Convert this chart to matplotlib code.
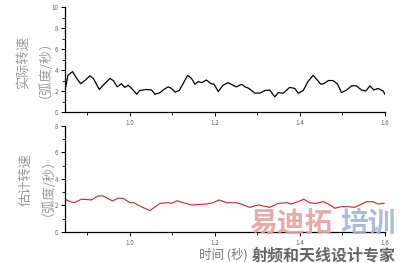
import matplotlib
matplotlib.use("Agg")
import matplotlib.pyplot as plt
from matplotlib.ticker import MultipleLocator

plt.rcParams['font.family'] = ['Noto Sans CJK SC', 'DejaVu Sans']

# 实际转速 (top, black)
t_real = [0.849, 0.854, 0.865, 0.875, 0.884, 0.894, 0.906, 0.914, 0.928, 0.937,
          0.953, 0.961, 0.970, 0.980, 0.988, 0.996, 1.004, 1.016, 1.023, 1.039,
          1.051, 1.059, 1.071, 1.078, 1.090, 1.098, 1.106, 1.116, 1.125, 1.136,
          1.145, 1.153, 1.161, 1.169, 1.180, 1.191, 1.198, 1.208, 1.219, 1.231,
          1.243, 1.251, 1.263, 1.271, 1.280, 1.294, 1.306, 1.318, 1.329, 1.341,
          1.349, 1.361, 1.365, 1.376, 1.388, 1.396, 1.408, 1.419, 1.431, 1.441,
          1.449, 1.456, 1.467, 1.478, 1.488, 1.498, 1.510, 1.522, 1.533, 1.545,
          1.555, 1.565, 1.574, 1.584, 1.596, 1.600]
v_real = [2.4, 3.5, 3.85, 3.2, 2.7, 3.0, 3.45, 3.2, 2.15, 2.55,
          3.2, 3.0, 2.4, 2.7, 2.35, 2.55, 2.25, 1.7, 2.05, 2.15,
          2.1, 1.7, 1.85, 2.1, 2.4, 2.25, 1.9, 2.05, 2.7, 3.5,
          3.2, 2.65, 2.9, 2.8, 3.05, 2.7, 2.65, 1.95, 2.55, 2.8,
          2.55, 2.4, 2.65, 2.4, 2.25, 1.8, 1.8, 2.05, 2.1, 1.45,
          1.85, 1.8, 1.95, 2.35, 2.25, 1.8, 2.05, 2.9, 3.5, 3.05,
          2.65, 2.7, 3.0, 3.0, 2.7, 1.85, 2.1, 2.5, 2.5, 2.1,
          2.0, 2.5, 2.1, 2.25, 2.0, 1.7]

# 估计转速 (bottom, red)
t_est = [0.847, 0.863, 0.871, 0.886, 0.910, 0.925, 0.937, 0.959, 0.972, 0.984,
         1.000, 1.009, 1.023, 1.047, 1.071, 1.090, 1.098, 1.111, 1.125, 1.145,
         1.180, 1.196, 1.210, 1.227, 1.251, 1.267, 1.282, 1.302, 1.314, 1.329,
         1.349, 1.369, 1.380, 1.396, 1.409, 1.423, 1.439, 1.455, 1.471, 1.482,
         1.498, 1.514, 1.529, 1.541, 1.557, 1.571, 1.584, 1.598]
v_est = [2.47, 2.24, 2.24, 2.47, 2.42, 2.72, 2.72, 2.34, 2.54, 2.54,
         2.21, 2.21, 1.96, 1.61, 2.16, 2.21, 2.16, 2.36, 2.21, 2.04,
         2.11, 2.21, 2.42, 2.21, 2.21, 2.04, 1.86, 2.04, 1.96, 1.86,
         2.16, 2.21, 2.11, 2.29, 2.47, 2.21, 2.16, 2.29, 2.04, 1.79,
         1.91, 1.91, 1.86, 2.04, 2.29, 2.29, 2.11, 2.16]

xticks = [1.0, 1.2, 1.4, 1.6]

fig = plt.figure(figsize=(4.03, 2.63), dpi=100)
ax1 = fig.add_axes([0.161, 0.574, 0.794, 0.399])
ax2 = fig.add_axes([0.161, 0.118, 0.794, 0.403])

ax1.plot(t_real, v_real, color='black', linewidth=0.9)
ax2.plot(t_est, v_est, color='#c4262e', linewidth=0.8)

for ax, ymax in [(ax1, 10), (ax2, 8)]:
    ax.set_xlim(0.847, 1.6)
    ax.set_ylim(0, ymax)
    ax.set_xticks(xticks)
    ax.set_xticklabels([f"{x:.1f}" for x in xticks])
    ax.xaxis.set_minor_locator(MultipleLocator(0.1))
    ax.yaxis.set_major_locator(MultipleLocator(2))
    ax.yaxis.set_minor_locator(MultipleLocator(1))
    ax.spines['top'].set_visible(False)
    ax.spines['right'].set_visible(False)
    ax.spines['left'].set_linewidth(0.9)
    ax.spines['bottom'].set_linewidth(0.9)
    ax.tick_params(which='major', direction='out', length=3, width=0.7,
                   labelsize=4.5, labelcolor='#666666', pad=2)
    ax.tick_params(which='minor', direction='out', length=2, width=0.6)

fig.text(0.077, 0.764, "实际转速\n（弧度/秒）", rotation=90, ha='center', va='center',
         fontsize=9.5, color='#999999', linespacing=1.15)
fig.text(0.084, 0.316, "估计转速\n（弧度/秒）", rotation=90, ha='center', va='center',
         fontsize=9.5, color='#999999', linespacing=1.15)
fig.text(0.555, 0.033, "时间 (秒)", ha='center', va='center', fontsize=9, color='#777777')

# watermark
fig.text(0.62, 0.148, "易迪拓", ha='left', va='center', fontsize=20, fontweight='bold',
         color='#e6a0a0', alpha=0.9)
fig.text(0.845, 0.148, "培训", ha='left', va='center', fontsize=20, fontweight='bold',
         color='#a3b5d2', alpha=0.9)
fig.text(0.625, 0.028, "射频和天线设计专家", ha='left', va='center', fontsize=11.5,
         fontweight='bold', color='#666666')

fig.savefig("out.png", dpi=100)
